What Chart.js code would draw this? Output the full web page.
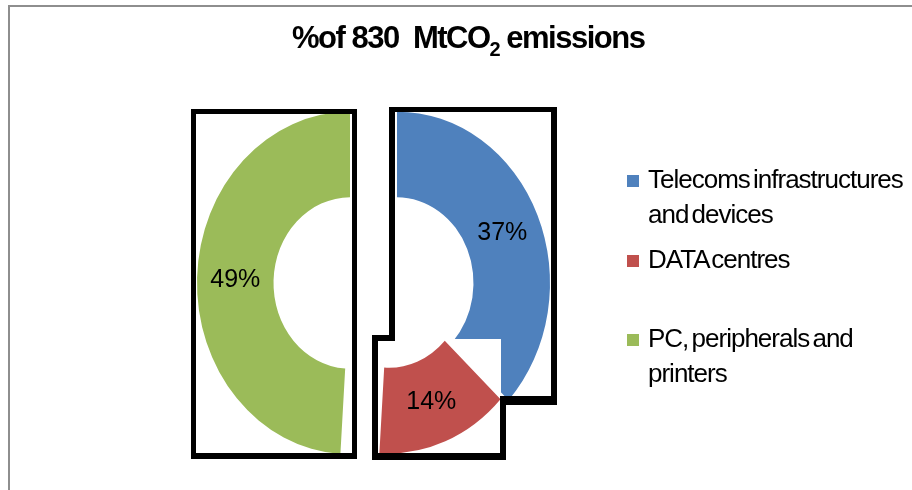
<!DOCTYPE html>
<html>
<head>
<meta charset="utf-8">
<script src="https://cdn.jsdelivr.net/npm/chart.js@4.4.1/dist/chart.umd.min.js"></script>
<style>
  html, body { margin: 0; padding: 0; background: #fff; overflow: hidden; }
  #wrap { position: relative; width: 912px; height: 490px; overflow: hidden; font-family: "Liberation Sans", Arial, sans-serif; }
  #frame { position: absolute; left: 8px; top: 5px; width: 920px; height: 500px; border-top: 2px solid #8e8e8e; border-left: 2px solid #8e8e8e; }
  #chart { position: absolute; left: 0; top: 0; }
  #title { position: absolute; left: 292px; top: 22px; font-size: 31px; line-height: 31px; font-weight: bold; letter-spacing: -1.5px; white-space: nowrap; color: #000; }
  #title sub { font-size: 20px; vertical-align: -8px; line-height: 0; }
  .item { position: absolute; left: 627px; width: 290px; }
  .item .box { position: absolute; left: 0; top: 13px; width: 12px; height: 12px; }
  .item .txt { position: absolute; left: 21px; width: 272px; font-size: 26px; line-height: 35px; letter-spacing: -1px; word-spacing: -3px; color: #000; }
</style>
</head>
<body>
<div id="wrap">
  <div id="frame"></div>
  <canvas id="chart" width="912" height="490"></canvas>
  <div id="title">%of 830&nbsp; MtCO<sub>2</sub> emissions</div>
  <div id="legend"></div>
</div>
<script>
const categories = ["Telecoms infrastructures and devices", "DATA centres", "PC, peripherals and printers"];
const shares = [37, 14, 49];
const colors = ["#4f81bd", "#c0504d", "#9bbb59"];
const legendTops = [162, 242, 321];

const stretchY = 1.12;       // picture is a bit taller than wide
// how far each slice was moved when the picture was cut up
const shifts = [{ x: 0, y: 0 }, { x: -8, y: -1 }, { x: -47, y: 0 }];

// legend
const legend = document.getElementById("legend");
categories.forEach((c, i) => {
    const d = document.createElement("div");
    d.className = "item";
    d.style.top = legendTops[i] + "px";
    d.innerHTML = `<div class="box" style="background:${colors[i]}"></div><div class="txt">${c}</div>`;
    legend.appendChild(d);
});

function drawArc(ctx, arc, cx, cy, sh) {
    ctx.save();
    ctx.translate(sh.x, sh.y);
    ctx.translate(cx, cy);
    ctx.scale(1, stretchY);
    ctx.translate(-cx, -cy);
    arc.draw(ctx);
    ctx.restore();
}

function fillBars(ctx, bars) {
    ctx.fillStyle = "#000";
    bars.forEach(b => ctx.fillRect(b[0], b[1], b[2] - b[0], b[3] - b[1]));
}

const cutPlugin = {
    id: "cut",
    beforeDatasetsDraw(chart) {
        const ctx = chart.ctx;
        const arcs = chart.getDatasetMeta(0).data;
        const cx = arcs[0].x, cy = arcs[0].y;

        drawArc(ctx, arcs[0], cx, cy, shifts[0]);
        // white patch that cuts the blue slice, then the red slice moved in
        ctx.fillStyle = "#fff";
        ctx.fillRect(377, 339, 124, 116);
        drawArc(ctx, arcs[1], cx, cy, shifts[1]);
        drawArc(ctx, arcs[2], cx, cy, shifts[2]);

        // black frames
        fillBars(ctx, [
            [191, 109, 357, 114], [191, 453, 357, 459],
            [191, 109, 196, 459], [352, 109, 357, 459]
        ]);
        fillBars(ctx, [
            [389, 107, 557, 112], [389, 107, 395, 341],
            [551, 107, 557, 405], [500, 396, 557, 405],
            [500, 396, 506, 460], [372, 453, 506, 460],
            [372, 335, 378, 460], [372, 335, 395, 341]
        ]);

        // percent labels
        ctx.font = "25px 'Liberation Sans', Arial, sans-serif";
        ctx.fillStyle = "#000";
        ctx.textAlign = "center";
        ctx.textBaseline = "middle";
        arcs.forEach((a, i) => {
            const p = a.getCenterPoint();
            const x = p.x + shifts[i].x;
            const y = cy + (p.y - cy) * stretchY + shifts[i].y;
            ctx.fillText(shares[i] + "%", x, y + 1);
        });
        return false;
    }
};

const ctx = document.getElementById("chart").getContext("2d");
const chart = new Chart(ctx, {
    type: "doughnut",
    data: {
        labels: categories,
        datasets: [{
            data: shares,
            backgroundColor: colors,
            borderWidth: 0
        }]
    },
    options: {
        responsive: false,
        animation: false,
        cutout: "50%",
        radius: 153,
        layout: { padding: { left: 100, right: 218, top: 100, bottom: 24 } },
        plugins: {
            legend: { display: false },
            tooltip: { enabled: false },
            title: { display: false }
        }
    },
    plugins: [cutPlugin]
});
</script>
</body>
</html>
